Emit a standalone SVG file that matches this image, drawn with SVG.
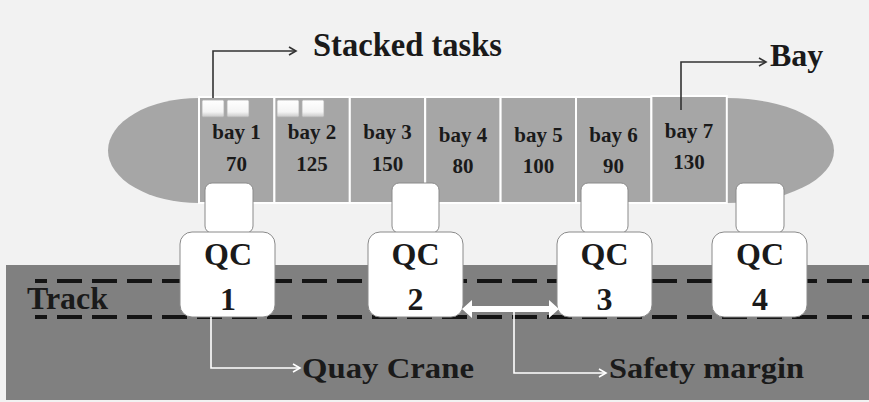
<svg xmlns="http://www.w3.org/2000/svg" width="869" height="402" viewBox="0 0 869 402">
<defs>
<style>
.t{font-family:"Liberation Serif","Times New Roman",serif;font-weight:bold;fill:#1a1a1a}
.bay{fill:#a6a6a6;stroke:#ffffff;stroke-width:2}
.bl{font-size:21px;text-anchor:middle}
.qc{font-size:32px;text-anchor:middle}
.big{fill:#ffffff;stroke:#8a8a8a;stroke-width:1}
.dash{stroke:#141414;stroke-width:4;stroke-dasharray:25 10;stroke-dashoffset:13;fill:none}
.dk{stroke:#333333;stroke-width:1.6;fill:none}
.wt{stroke:#ffffff;stroke-width:1.6;fill:none}
.task{fill:url(#tg);stroke:#b0b0b0;stroke-width:0.8}
</style>
<linearGradient id="tg" x1="0" y1="0" x2="0" y2="1">
<stop offset="0" stop-color="#ffffff"/>
<stop offset="0.7" stop-color="#f4f4f4"/>
<stop offset="1" stop-color="#c8c8c8"/>
</linearGradient>
<marker id="ad" markerWidth="10" markerHeight="10" refX="8" refY="5" orient="auto" markerUnits="userSpaceOnUse">
<path d="M1,1 L8,5 L1,9" fill="none" stroke="#333333" stroke-width="1.6"/>
</marker>
<marker id="aw" markerWidth="10" markerHeight="10" refX="8" refY="5" orient="auto" markerUnits="userSpaceOnUse">
<path d="M1,1 L8,5 L1,9" fill="none" stroke="#ffffff" stroke-width="1.6"/>
</marker>
</defs>
<rect x="0" y="0" width="869" height="402" fill="#f2f2f2"/>
<rect x="6" y="265" width="863" height="135" fill="#808080"/>

<g id="ship">
<path d="M199,98 L727,98 A107,52.5 0 0 1 727,203 L199,203 A91,52.5 0 0 1 199,98 Z" fill="#a6a6a6"/>
</g>
<g id="bay1"><rect class="bay" x="199" y="97" width="75.4" height="106"/>
<rect class="task" x="202" y="100" width="22" height="17" rx="1.5"/><rect class="task" x="227" y="100" width="22" height="17" rx="1.5"/>
<text class="t bl" x="236.5" y="139">bay 1</text><text class="t bl" x="236.5" y="171">70</text></g>
<g id="bay2"><rect class="bay" x="274.4" y="97" width="75.4" height="106"/>
<rect class="task" x="277" y="100" width="22" height="17" rx="1.5"/><rect class="task" x="302" y="100" width="22" height="17" rx="1.5"/>
<text class="t bl" x="312" y="139">bay 2</text><text class="t bl" x="312" y="171">125</text></g>
<g id="bay3"><rect class="bay" x="349.8" y="97" width="75.4" height="106"/>
<text class="t bl" x="387.5" y="139">bay 3</text><text class="t bl" x="387.5" y="171">150</text></g>
<g id="bay4"><rect class="bay" x="425.2" y="97" width="75.4" height="106"/>
<text class="t bl" x="463" y="142">bay 4</text><text class="t bl" x="463" y="173">80</text></g>
<g id="bay5"><rect class="bay" x="500.6" y="97" width="75.4" height="106"/>
<text class="t bl" x="538.5" y="142">bay 5</text><text class="t bl" x="538.5" y="173">100</text></g>
<g id="bay6"><rect class="bay" x="576" y="97" width="75.4" height="106"/>
<text class="t bl" x="613.5" y="142">bay 6</text><text class="t bl" x="613.5" y="173">90</text></g>
<g id="bay7"><rect class="bay" x="651.4" y="96" width="75.4" height="107" stroke-width="2.5"/>
<text class="t bl" x="689" y="138">bay 7</text><text class="t bl" x="689" y="169">130</text></g>

<g id="track">
<line class="dash" x1="35" y1="281" x2="869" y2="281"/>
<line class="dash" x1="35" y1="317" x2="869" y2="317"/>
<text class="t" x="27" y="309" font-size="31" textLength="81" lengthAdjust="spacingAndGlyphs">Track</text>
</g>

<g id="qc1"><rect class="big" x="205" y="183" width="48" height="50" rx="7"/><rect class="big" x="180" y="232" width="95" height="85" rx="12"/>
<text class="t qc" x="228" y="265">QC</text><text class="t qc" x="228" y="310">1</text></g>
<g id="qc2"><rect class="big" x="392" y="183" width="47" height="50" rx="7"/><rect class="big" x="368" y="232" width="95" height="85" rx="12"/>
<text class="t qc" x="415.5" y="265">QC</text><text class="t qc" x="415.5" y="310">2</text></g>
<g id="qc3"><rect class="big" x="581" y="183" width="47" height="50" rx="7"/><rect class="big" x="557" y="232" width="95" height="85" rx="12"/>
<text class="t qc" x="604.5" y="265">QC</text><text class="t qc" x="604.5" y="310">3</text></g>
<g id="qc4"><rect class="big" x="736" y="183" width="48" height="50" rx="7"/><rect class="big" x="712" y="232" width="95" height="85" rx="12"/>
<text class="t qc" x="760" y="265">QC</text><text class="t qc" x="760" y="310">4</text></g>

<g id="connectors">
<path class="dk" d="M213,98 V51 H296" marker-end="url(#ad)"/>
<path class="dk" d="M681,110 V62 H766" marker-end="url(#ad)"/>
<path class="wt" d="M211,317 V368 H300" marker-end="url(#aw)"/>
<polygon points="462,309 472,300 472,306 549,306 549,300 559,309 549,318 549,312 472,312 472,318" fill="#ffffff"/>
<path class="wt" d="M514,312 V373 H606" marker-end="url(#aw)"/>
</g>

<g id="labels">
<text class="t" x="313" y="56" font-size="33" textLength="189" lengthAdjust="spacingAndGlyphs">Stacked tasks</text>
<text class="t" x="770" y="66" font-size="32">Bay</text>
<text class="t" x="302" y="378" font-size="30" textLength="172" lengthAdjust="spacingAndGlyphs">Quay Crane</text>
<text class="t" x="609" y="378" font-size="30" textLength="195" lengthAdjust="spacingAndGlyphs">Safety margin</text>
</g>
</svg>
